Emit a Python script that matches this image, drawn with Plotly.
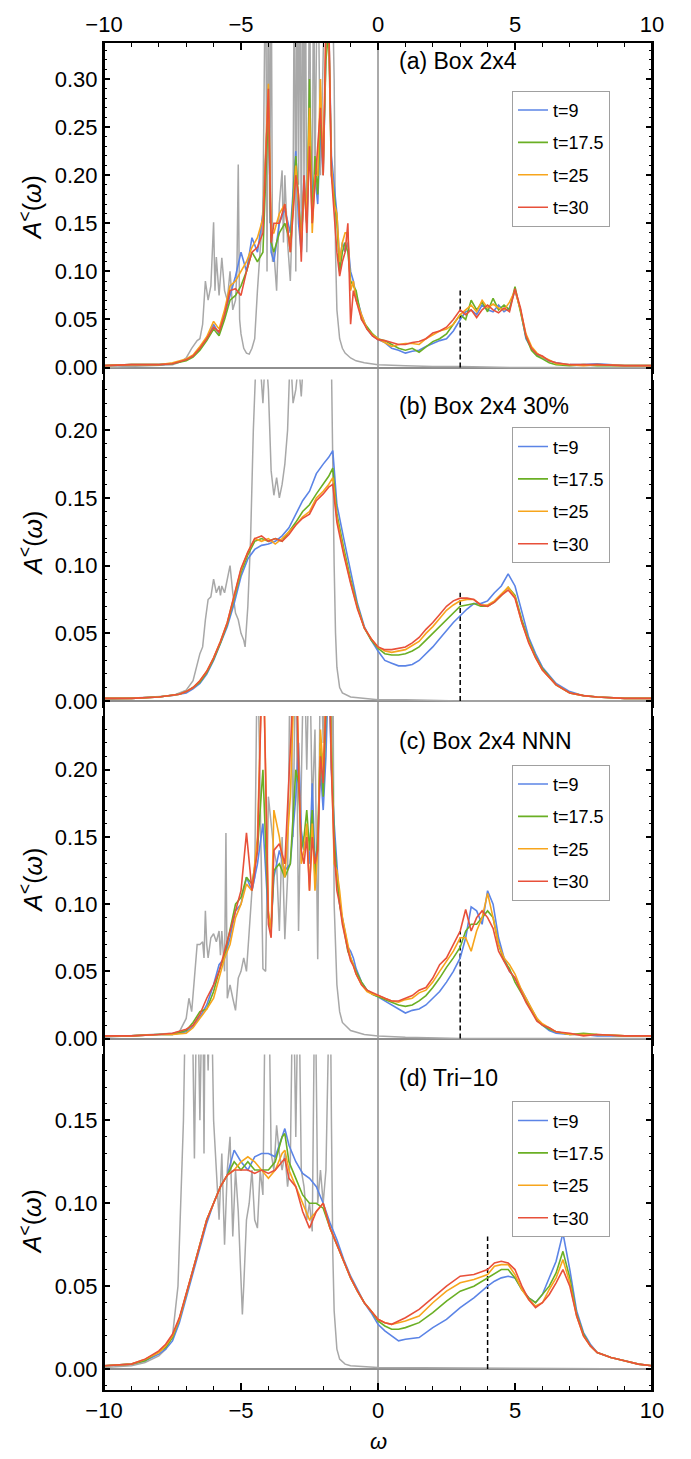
import plotly.graph_objects as go

# ---------------- data ----------------
SERIES_NAMES = ["t=9", "t=17.5", "t=25", "t=30"]
PANEL_LABELS = ["(a) Box 2x4", "(b) Box 2x4 30%", "(c) Box 2x4 NNN", "(d) Tri\u221210"]
DASH_X = [3, 3, 3, 4]
DASH_TOP = 0.08

# panels (a) and (c): omega grid
X_AC = [-10, -9, -8, -7.5, -7, -6.75, -6.5, -6.25, -6, -5.8,
        -5.6, -5.4, -5.2, -5.0, -4.8, -4.6, -4.4, -4.2, -4.0, -3.9,
        -3.8, -3.6, -3.4, -3.2, -3.0, -2.9, -2.8, -2.7, -2.6, -2.5,
        -2.4, -2.3, -2.2, -2.1, -2.0, -1.9, -1.8, -1.7, -1.6, -1.5,
        -1.4, -1.3, -1.2, -1.1, -1.0, -0.9, -0.8, -0.6, -0.4, -0.2,
        0, 0.25, 0.5, 0.75, 1, 1.25, 1.5, 1.75, 2, 2.25,
        2.5, 2.75, 3, 3.2, 3.4, 3.6, 3.8, 4.0, 4.2, 4.4,
        4.6, 4.8, 5.0, 5.2, 5.4, 5.6, 5.8, 6, 6.25, 6.5,
        7, 7.5, 8, 9, 10]

A_T9 = [0.002, 0.003, 0.003, 0.004, 0.008, 0.012, 0.020, 0.030, 0.045, 0.035,
        0.055, 0.075, 0.095, 0.120, 0.100, 0.135, 0.120, 0.160, 0.280, 0.120,
        0.110, 0.150, 0.165, 0.140, 0.225, 0.150, 0.120, 0.200, 0.150, 0.245,
        0.180, 0.200, 0.170, 0.250, 0.200, 0.330, 0.360, 0.220, 0.190, 0.160,
        0.110, 0.130, 0.120, 0.130, 0.100, 0.090, 0.075, 0.055, 0.040, 0.033,
        0.029, 0.026, 0.020, 0.018, 0.015, 0.017, 0.018, 0.022, 0.025, 0.028,
        0.030, 0.038, 0.050, 0.058, 0.060, 0.055, 0.065, 0.060, 0.058, 0.065,
        0.058, 0.062, 0.080, 0.060, 0.030, 0.020, 0.013, 0.010, 0.007, 0.005,
        0.003, 0.003, 0.004, 0.002, 0.002]
A_T17 = [0.002, 0.003, 0.003, 0.004, 0.007, 0.011, 0.018, 0.028, 0.040, 0.033,
         0.050, 0.070, 0.075, 0.085, 0.100, 0.120, 0.110, 0.120, 0.270, 0.130,
         0.120, 0.140, 0.150, 0.130, 0.220, 0.170, 0.130, 0.190, 0.150, 0.300,
         0.150, 0.220, 0.180, 0.260, 0.210, 0.320, 0.350, 0.200, 0.180, 0.150,
         0.100, 0.120, 0.130, 0.120, 0.090, 0.085, 0.080, 0.050, 0.042, 0.035,
         0.030, 0.028, 0.024, 0.020, 0.018, 0.020, 0.016, 0.022, 0.027, 0.030,
         0.035, 0.045, 0.055, 0.050, 0.070, 0.060, 0.068, 0.058, 0.072, 0.060,
         0.065, 0.060, 0.084, 0.058, 0.032, 0.018, 0.012, 0.009, 0.005, 0.003,
         0.002, 0.003, 0.002, 0.002, 0.002]
A_T25 = [0.002, 0.003, 0.003, 0.005, 0.009, 0.013, 0.022, 0.032, 0.048, 0.040,
         0.060, 0.085, 0.090, 0.100, 0.110, 0.125, 0.135, 0.155, 0.295, 0.140,
         0.140, 0.160, 0.170, 0.120, 0.210, 0.170, 0.130, 0.190, 0.160, 0.270,
         0.140, 0.200, 0.200, 0.300, 0.200, 0.350, 0.360, 0.210, 0.170, 0.160,
         0.110, 0.130, 0.140, 0.140, 0.080, 0.090, 0.070, 0.055, 0.040, 0.034,
         0.030, 0.026, 0.022, 0.024, 0.025, 0.025, 0.024, 0.030, 0.034, 0.038,
         0.040, 0.045, 0.055, 0.060, 0.065, 0.058, 0.070, 0.062, 0.066, 0.062,
         0.060, 0.068, 0.080, 0.060, 0.035, 0.022, 0.015, 0.011, 0.008, 0.004,
         0.003, 0.002, 0.003, 0.002, 0.002]
A_T30 = [0.002, 0.003, 0.003, 0.004, 0.008, 0.012, 0.020, 0.030, 0.042, 0.037,
         0.055, 0.080, 0.082, 0.075, 0.100, 0.120, 0.125, 0.140, 0.290, 0.130,
         0.150, 0.150, 0.170, 0.120, 0.200, 0.180, 0.110, 0.200, 0.140, 0.230,
         0.150, 0.190, 0.220, 0.270, 0.200, 0.360, 0.370, 0.200, 0.160, 0.120,
         0.095, 0.110, 0.120, 0.150, 0.045, 0.080, 0.070, 0.050, 0.040, 0.033,
         0.029, 0.028, 0.026, 0.024, 0.024, 0.026, 0.027, 0.030, 0.036, 0.038,
         0.042, 0.050, 0.060, 0.055, 0.060, 0.052, 0.060, 0.065, 0.060, 0.057,
         0.062, 0.058, 0.082, 0.062, 0.033, 0.020, 0.014, 0.012, 0.007, 0.005,
         0.003, 0.003, 0.003, 0.002, 0.002]

XG_A = [-10, -9, -8, -7.5, -7.2, -7.0, -6.8, -6.6, -6.5, -6.4,
        -6.3, -6.2, -6.1, -6.0, -5.95, -5.9, -5.8, -5.7, -5.6, -5.5,
        -5.4, -5.3, -5.2, -5.15, -5.1, -5.05, -5.0, -4.9, -4.8, -4.7,
        -4.6, -4.5, -4.4, -4.3, -4.2, -4.1, -4.05, -4.0, -3.95, -3.9,
        -3.85, -3.8, -3.7, -3.6, -3.5, -3.45, -3.4, -3.3, -3.2, -3.1,
        -3.05, -3.0, -2.95, -2.9, -2.85, -2.8, -2.75, -2.7, -2.65, -2.6,
        -2.55, -2.5, -2.45, -2.4, -2.35, -2.3, -2.2, -2.1, -2.0, -1.9,
        -1.8, -1.7, -1.6, -1.55, -1.5, -1.45, -1.4, -1.3, -1.2, -1.0,
        -0.8, -0.5, 0, 1, 2, 3, 5, 7, 10]
G_A = [0.0, 0.001, 0.002, 0.003, 0.006, 0.010, 0.020, 0.028, 0.030, 0.045,
       0.090, 0.070, 0.085, 0.151, 0.080, 0.115, 0.075, 0.114, 0.080, 0.070,
       0.100, 0.060, 0.070, 0.100, 0.211, 0.050, 0.035, 0.020, 0.015, 0.014,
       0.020, 0.030, 0.080, 0.120, 0.165, 0.450, 0.100, 0.450, 0.150, 0.450,
       0.110, 0.120, 0.080, 0.170, 0.205, 0.130, 0.200, 0.130, 0.090, 0.180,
       0.450, 0.100, 0.450, 0.190, 0.450, 0.120, 0.450, 0.190, 0.450, 0.120,
       0.180, 0.450, 0.200, 0.150, 0.450, 0.200, 0.450, 0.200, 0.450, 0.450,
       0.450, 0.450, 0.300, 0.120, 0.060, 0.040, 0.030, 0.020, 0.015, 0.010,
       0.007, 0.005, 0.003, 0.002, 0.001, 0.001, 0.0, 0.0, 0.0]

# panel (b)
X_B = [-10, -9, -8, -7.5, -7.25, -7, -6.75, -6.5, -6.25, -6,
       -5.75, -5.5, -5.25, -5, -4.75, -4.5, -4.25, -4, -3.75, -3.5,
       -3.25, -3, -2.75, -2.5, -2.25, -2, -1.8, -1.65, -1.5, -1.25,
       -1, -0.75, -0.5, -0.25, 0, 0.25, 0.5, 0.75, 1, 1.25,
       1.5, 1.75, 2, 2.25, 2.5, 2.75, 3, 3.25, 3.5, 3.75,
       4, 4.25, 4.5, 4.75, 5, 5.25, 5.5, 5.75, 6, 6.5,
       7, 7.5, 8, 9, 10]
B_T9 = [0.002, 0.002, 0.003, 0.004, 0.005, 0.006, 0.009, 0.013, 0.020, 0.030,
        0.042, 0.055, 0.072, 0.092, 0.105, 0.112, 0.115, 0.116, 0.118, 0.122,
        0.128, 0.138, 0.148, 0.155, 0.168, 0.175, 0.180, 0.185, 0.145, 0.120,
        0.095, 0.072, 0.055, 0.045, 0.037, 0.030, 0.028, 0.026, 0.026, 0.027,
        0.030, 0.035, 0.040, 0.046, 0.052, 0.058, 0.063, 0.068, 0.072, 0.072,
        0.074, 0.080, 0.085, 0.094, 0.085, 0.065, 0.047, 0.035, 0.025, 0.013,
        0.007, 0.004, 0.003, 0.002, 0.002]
B_T17 = [0.002, 0.002, 0.003, 0.004, 0.005, 0.007, 0.010, 0.014, 0.021, 0.031,
         0.043, 0.057, 0.075, 0.095, 0.108, 0.118, 0.120, 0.118, 0.120, 0.118,
         0.125, 0.132, 0.140, 0.145, 0.153, 0.160, 0.166, 0.172, 0.138, 0.113,
         0.090, 0.070, 0.054, 0.045, 0.039, 0.035, 0.034, 0.034, 0.035, 0.037,
         0.040, 0.045, 0.050, 0.055, 0.060, 0.065, 0.070, 0.071, 0.072, 0.070,
         0.070, 0.073, 0.078, 0.084, 0.078, 0.060, 0.045, 0.033, 0.024, 0.012,
         0.006, 0.004, 0.003, 0.002, 0.002]
B_T25 = [0.002, 0.002, 0.003, 0.004, 0.005, 0.007, 0.010, 0.015, 0.022, 0.032,
         0.044, 0.058, 0.077, 0.097, 0.110, 0.120, 0.118, 0.120, 0.116, 0.120,
         0.125, 0.130, 0.136, 0.140, 0.150, 0.155, 0.160, 0.165, 0.135, 0.110,
         0.088, 0.069, 0.054, 0.046, 0.040, 0.037, 0.036, 0.037, 0.038, 0.041,
         0.044, 0.050, 0.055, 0.061, 0.067, 0.071, 0.074, 0.075, 0.075, 0.071,
         0.071, 0.074, 0.079, 0.084, 0.077, 0.058, 0.044, 0.032, 0.023, 0.012,
         0.006, 0.004, 0.003, 0.002, 0.002]
B_T30 = [0.002, 0.002, 0.003, 0.004, 0.005, 0.007, 0.010, 0.015, 0.022, 0.032,
         0.044, 0.058, 0.078, 0.098, 0.110, 0.120, 0.122, 0.118, 0.120, 0.118,
         0.123, 0.130, 0.135, 0.138, 0.148, 0.153, 0.158, 0.160, 0.132, 0.108,
         0.087, 0.068, 0.054, 0.046, 0.040, 0.038, 0.038, 0.039, 0.040, 0.043,
         0.047, 0.053, 0.058, 0.064, 0.070, 0.074, 0.076, 0.076, 0.075, 0.071,
         0.070, 0.073, 0.078, 0.082, 0.076, 0.058, 0.043, 0.032, 0.023, 0.012,
         0.006, 0.004, 0.003, 0.002, 0.002]

XG_B = [-10, -9, -8, -7.5, -7, -6.75, -6.5, -6.4, -6.3, -6.2,
        -6.1, -6.0, -5.9, -5.8, -5.75, -5.7, -5.6, -5.5, -5.4, -5.3,
        -5.2, -5.1, -5.0, -4.9, -4.85, -4.75, -4.65, -4.55, -4.45, -4.4,
        -4.3, -4.2, -4.1, -4.0, -3.9, -3.8, -3.7, -3.6, -3.5, -3.4,
        -3.3, -3.2, -3.1, -3.0, -2.9, -2.8, -2.7, -2.5, -2.0, -1.75,
        -1.7, -1.65, -1.6, -1.55, -1.5, -1.4, -1.3, -1.0, -0.5, 0,
        1, 3, 10]
G_B = [0.001, 0.002, 0.003, 0.004, 0.008, 0.015, 0.035, 0.040, 0.060, 0.075,
       0.077, 0.090, 0.080, 0.085, 0.078, 0.085, 0.080, 0.090, 0.100, 0.080,
       0.065, 0.060, 0.050, 0.045, 0.040, 0.070, 0.120, 0.200, 0.270, 0.280,
       0.250, 0.220, 0.260, 0.230, 0.170, 0.152, 0.165, 0.150, 0.160, 0.175,
       0.200, 0.260, 0.220, 0.230, 0.250, 0.225, 0.260, 0.300, 0.300, 0.300,
       0.250, 0.165, 0.100, 0.050, 0.025, 0.010, 0.006, 0.003, 0.002, 0.001,
       0.001, 0.0, 0.0]

# panel (c)  (same omega grid as panel (a): X_AC)
C_T9 = [0.002, 0.002, 0.003, 0.003, 0.005, 0.009, 0.016, 0.025, 0.040, 0.055,
        0.060, 0.075, 0.095, 0.100, 0.120, 0.110, 0.130, 0.160, 0.090, 0.085,
        0.120, 0.140, 0.125, 0.130, 0.180, 0.220, 0.155, 0.140, 0.150, 0.130,
        0.190, 0.130, 0.145, 0.200, 0.170, 0.210, 0.280, 0.200, 0.160, 0.130,
        0.100, 0.090, 0.078, 0.068, 0.065, 0.060, 0.052, 0.042, 0.036, 0.033,
        0.031, 0.028, 0.025, 0.022, 0.019, 0.021, 0.022, 0.025, 0.030, 0.035,
        0.042, 0.050, 0.060, 0.075, 0.098, 0.095, 0.085, 0.110, 0.100, 0.075,
        0.060, 0.050, 0.045, 0.038, 0.030, 0.022, 0.015, 0.010, 0.006, 0.004,
        0.003, 0.003, 0.002, 0.002, 0.002]
C_T17 = [0.002, 0.002, 0.003, 0.003, 0.006, 0.012, 0.020, 0.022, 0.035, 0.050,
         0.062, 0.080, 0.100, 0.105, 0.120, 0.115, 0.140, 0.200, 0.090, 0.080,
         0.125, 0.130, 0.120, 0.130, 0.200, 0.190, 0.140, 0.150, 0.170, 0.140,
         0.170, 0.120, 0.150, 0.220, 0.180, 0.240, 0.300, 0.220, 0.150, 0.120,
         0.100, 0.088, 0.075, 0.065, 0.060, 0.055, 0.050, 0.042, 0.036, 0.033,
         0.031, 0.029, 0.027, 0.025, 0.024, 0.025, 0.028, 0.032, 0.038, 0.045,
         0.053, 0.060, 0.068, 0.080, 0.085, 0.085, 0.090, 0.095, 0.090, 0.070,
         0.058, 0.052, 0.042, 0.035, 0.028, 0.020, 0.014, 0.010, 0.007, 0.005,
         0.003, 0.004, 0.003, 0.002, 0.002]
C_T25 = [0.002, 0.002, 0.003, 0.003, 0.004, 0.008, 0.015, 0.022, 0.030, 0.045,
         0.060, 0.070, 0.090, 0.100, 0.115, 0.110, 0.150, 0.300, 0.095, 0.080,
         0.170, 0.150, 0.120, 0.180, 0.300, 0.210, 0.130, 0.140, 0.160, 0.110,
         0.160, 0.110, 0.140, 0.230, 0.200, 0.260, 0.300, 0.210, 0.130, 0.125,
         0.110, 0.090, 0.080, 0.070, 0.060, 0.055, 0.048, 0.040, 0.035, 0.033,
         0.032, 0.030, 0.028, 0.027, 0.029, 0.030, 0.034, 0.036, 0.042, 0.050,
         0.058, 0.065, 0.075, 0.075, 0.065, 0.080, 0.090, 0.108, 0.090, 0.070,
         0.060, 0.055, 0.048, 0.038, 0.030, 0.022, 0.015, 0.011, 0.008, 0.005,
         0.003, 0.003, 0.003, 0.002, 0.002]
C_T30 = [0.002, 0.002, 0.003, 0.004, 0.007, 0.010, 0.018, 0.030, 0.040, 0.050,
         0.065, 0.080, 0.095, 0.110, 0.153, 0.110, 0.140, 0.300, 0.085, 0.075,
         0.140, 0.145, 0.130, 0.200, 0.300, 0.200, 0.140, 0.130, 0.150, 0.110,
         0.150, 0.130, 0.140, 0.210, 0.190, 0.250, 0.300, 0.200, 0.140, 0.110,
         0.100, 0.085, 0.075, 0.066, 0.058, 0.054, 0.048, 0.040, 0.036, 0.034,
         0.032, 0.030, 0.028, 0.028, 0.030, 0.032, 0.036, 0.038, 0.045, 0.055,
         0.060, 0.070, 0.080, 0.096, 0.080, 0.090, 0.095, 0.090, 0.082, 0.065,
         0.058, 0.050, 0.045, 0.036, 0.027, 0.020, 0.013, 0.010, 0.008, 0.005,
         0.004, 0.002, 0.003, 0.002, 0.002]

XG_C = [-10, -9, -8, -7.5, -7.25, -7.0, -6.9, -6.8, -6.7, -6.6,
        -6.5, -6.4, -6.35, -6.3, -6.25, -6.2, -6.1, -6.0, -5.9, -5.8,
        -5.75, -5.7, -5.6, -5.55, -5.5, -5.4, -5.3, -5.2, -5.1, -5.0,
        -4.9, -4.8, -4.7, -4.6, -4.5, -4.4, -4.3, -4.2, -4.1, -4.0,
        -3.9, -3.8, -3.7, -3.6, -3.5, -3.4, -3.3, -3.2, -3.1, -3.0,
        -2.9, -2.8, -2.7, -2.6, -2.5, -2.4, -2.3, -2.2, -2.1, -2.0,
        -1.9, -1.8, -1.7, -1.65, -1.6, -1.5, -1.4, -1.3, -1.1, -1.0,
        -0.5, 0, 1, 3, 10]
G_C = [0.001, 0.002, 0.003, 0.004, 0.005, 0.015, 0.030, 0.020, 0.045, 0.070,
       0.070, 0.072, 0.060, 0.095, 0.070, 0.060, 0.075, 0.078, 0.072, 0.080,
       0.062, 0.080, 0.050, 0.153, 0.030, 0.040, 0.030, 0.021, 0.045, 0.050,
       0.060, 0.050, 0.080, 0.110, 0.120, 0.300, 0.180, 0.052, 0.050, 0.180,
       0.160, 0.140, 0.130, 0.080, 0.150, 0.074, 0.120, 0.300, 0.150, 0.300,
       0.080, 0.200, 0.300, 0.200, 0.300, 0.170, 0.230, 0.059, 0.300, 0.220,
       0.300, 0.300, 0.200, 0.300, 0.100, 0.040, 0.020, 0.012, 0.008, 0.006,
       0.003, 0.002, 0.001, 0.0, 0.0]

# panel (d)
X_D = [-10, -9, -8.5, -8, -7.75, -7.5, -7.25, -7, -6.75, -6.5,
       -6.25, -6, -5.75, -5.5, -5.25, -5, -4.75, -4.5, -4.25, -4,
       -3.75, -3.5, -3.4, -3.25, -3, -2.75, -2.5, -2.25, -2, -1.75,
       -1.5, -1.25, -1, -0.75, -0.5, -0.25, 0, 0.25, 0.5, 0.75,
       1, 1.5, 2, 2.5, 3, 3.5, 4, 4.25, 4.5, 4.75,
       5, 5.25, 5.5, 5.75, 6, 6.25, 6.5, 6.75, 7, 7.25,
       7.5, 7.75, 8, 8.5, 9, 9.5, 10]
D_T9 = [0.002, 0.003, 0.005, 0.009, 0.012, 0.017, 0.028, 0.043, 0.058, 0.073,
        0.088, 0.100, 0.110, 0.117, 0.132, 0.125, 0.120, 0.128, 0.130, 0.130,
        0.128, 0.140, 0.145, 0.135, 0.125, 0.118, 0.115, 0.110, 0.100, 0.088,
        0.078, 0.066, 0.056, 0.048, 0.040, 0.034, 0.027, 0.023, 0.020, 0.017,
        0.018, 0.019, 0.025, 0.030, 0.037, 0.043, 0.050, 0.053, 0.055, 0.056,
        0.055, 0.048, 0.043, 0.040, 0.045, 0.055, 0.065, 0.082, 0.060, 0.035,
        0.022, 0.015, 0.010, 0.007, 0.005, 0.003, 0.002]
D_T17 = [0.002, 0.003, 0.005, 0.010, 0.013, 0.019, 0.030, 0.045, 0.060, 0.075,
         0.090, 0.100, 0.110, 0.117, 0.125, 0.120, 0.125, 0.120, 0.120, 0.120,
         0.125, 0.140, 0.142, 0.125, 0.115, 0.105, 0.100, 0.100, 0.097, 0.085,
         0.075, 0.065, 0.055, 0.047, 0.040, 0.035, 0.029, 0.026, 0.024, 0.024,
         0.025, 0.028, 0.034, 0.041, 0.047, 0.050, 0.055, 0.058, 0.060, 0.060,
         0.055, 0.048, 0.043, 0.040, 0.045, 0.050, 0.058, 0.071, 0.055, 0.033,
         0.021, 0.014, 0.010, 0.007, 0.005, 0.003, 0.002]
D_T25 = [0.002, 0.003, 0.006, 0.010, 0.014, 0.020, 0.030, 0.045, 0.060, 0.075,
         0.090, 0.100, 0.110, 0.117, 0.120, 0.125, 0.128, 0.125, 0.120, 0.115,
         0.120, 0.130, 0.132, 0.120, 0.110, 0.100, 0.090, 0.095, 0.100, 0.085,
         0.075, 0.065, 0.055, 0.047, 0.040, 0.035, 0.030, 0.028, 0.027, 0.028,
         0.029, 0.032, 0.040, 0.047, 0.052, 0.054, 0.057, 0.062, 0.063, 0.063,
         0.057, 0.048, 0.042, 0.038, 0.040, 0.048, 0.055, 0.066, 0.052, 0.032,
         0.020, 0.014, 0.010, 0.007, 0.005, 0.003, 0.002]
D_T30 = [0.002, 0.003, 0.006, 0.011, 0.015, 0.021, 0.031, 0.045, 0.060, 0.075,
         0.090, 0.100, 0.110, 0.117, 0.120, 0.120, 0.120, 0.118, 0.120, 0.118,
         0.120, 0.125, 0.127, 0.115, 0.110, 0.095, 0.085, 0.095, 0.100, 0.085,
         0.075, 0.065, 0.055, 0.047, 0.040, 0.035, 0.030, 0.028, 0.027, 0.029,
         0.031, 0.036, 0.043, 0.050, 0.056, 0.057, 0.060, 0.064, 0.065, 0.064,
         0.060, 0.050, 0.042, 0.037, 0.040, 0.045, 0.052, 0.060, 0.050, 0.032,
         0.020, 0.014, 0.010, 0.007, 0.005, 0.003, 0.002]

XG_D = [-10, -9, -8.5, -8, -7.75, -7.5, -7.3, -7.2, -7.1, -7.0,
        -6.9, -6.8, -6.7, -6.6, -6.5, -6.4, -6.35, -6.3, -6.2, -6.1,
        -6.0, -5.9, -5.8, -5.7, -5.6, -5.5, -5.4, -5.3, -5.2, -5.1,
        -5.0, -4.95, -4.9, -4.8, -4.7, -4.6, -4.5, -4.4, -4.3, -4.2,
        -4.1, -4.0, -3.9, -3.8, -3.7, -3.6, -3.5, -3.4, -3.3, -3.2,
        -3.1, -3.0, -2.9, -2.8, -2.7, -2.6, -2.5, -2.4, -2.3, -2.2,
        -2.1, -2.0, -1.9, -1.85, -1.8, -1.75, -1.7, -1.65, -1.6, -1.5,
        -1.4, -1.2, -1.0, 0, 10]
G_D = [0.001, 0.002, 0.004, 0.008, 0.012, 0.020, 0.050, 0.100, 0.150, 0.250,
       0.250, 0.250, 0.127, 0.250, 0.150, 0.250, 0.130, 0.250, 0.180, 0.250,
       0.150, 0.120, 0.090, 0.130, 0.075, 0.120, 0.140, 0.080, 0.120, 0.095,
       0.045, 0.033, 0.050, 0.090, 0.100, 0.120, 0.090, 0.085, 0.120, 0.105,
       0.250, 0.250, 0.130, 0.120, 0.147, 0.130, 0.120, 0.130, 0.110, 0.125,
       0.250, 0.140, 0.250, 0.120, 0.110, 0.090, 0.100, 0.083, 0.250, 0.100,
       0.120, 0.100, 0.120, 0.250, 0.250, 0.250, 0.150, 0.070, 0.035, 0.012,
       0.006, 0.003, 0.002, 0.001, 0.0]

# ---------------- styling / layout ----------------
COLORS = ["#5b84e6", "#6aaf24", "#f7a51c", "#e8503a"]
GRAY = "#a8a8a8"
AXGRAY = "#8e8e8e"
FONT = "Liberation Sans, Arial, sans-serif"

W, H = 691, 1459
ML, MR, MT, MB = 104, 39, 37, 69
PH = H - MT - MB


def py(pix):
    return (H - MB - pix) / PH


# panel pixel extents (top, bottom), zero-line pixel, pixels per unit
PANEL_PIX = [(37, 369, 363, 966.0), (375, 705, 698, 1360.0),
             (713, 1044, 1037, 1350.0), (1053, 1390, 1369, 1666.0)]
LEGEND_TOP = [85, 423, 762, 1100]
LABEL_Y = [55, 402, 738, 1077]

panels = [
    (X_AC, [A_T9, A_T17, A_T25, A_T30], XG_A, G_A),
    (X_B, [B_T9, B_T17, B_T25, B_T30], XG_B, G_B),
    (X_AC, [C_T9, C_T17, C_T25, C_T30], XG_C, G_C),
    (X_D, [D_T9, D_T17, D_T25, D_T30], XG_D, G_D),
]

fig = go.Figure()
layout = dict(
    width=W, height=H,
    margin=dict(l=ML, r=MR, t=MT, b=MB),
    plot_bgcolor="white", paper_bgcolor="white",
    font=dict(family=FONT, size=22, color="black"),
    showlegend=True,
)
annotations = []
shapes = []

for k, (xs, series, gx, gy) in enumerate(panels):
    n = k + 1
    xa = "x" if n == 1 else f"x{n}"
    ya = "y" if n == 1 else f"y{n}"
    leg = "legend" if n == 1 else f"legend{n}"
    top, bot, zero, ppu = PANEL_PIX[k]
    y_top = (zero - top) / ppu
    y_bot = (zero - bot) / ppu

    fig.add_trace(go.Scatter(x=gx, y=gy, mode="lines", xaxis=xa, yaxis=ya,
                             line=dict(color=GRAY, width=1.5), showlegend=False,
                             hoverinfo="skip"))
    fig.add_trace(go.Scatter(x=[DASH_X[k], DASH_X[k]], y=[0, DASH_TOP], mode="lines",
                             xaxis=xa, yaxis=ya, showlegend=False,
                             line=dict(color="black", width=1.5, dash="5px,3px")))
    for name, ys, col in zip(SERIES_NAMES, series, COLORS):
        fig.add_trace(go.Scatter(x=xs, y=ys, mode="lines", name=name, xaxis=xa, yaxis=ya,
                                 line=dict(color=col, width=1.6), legend=leg,
                                 legendgroup=f"{n}{name}"))

    xkey = "xaxis" if n == 1 else f"xaxis{n}"
    ykey = "yaxis" if n == 1 else f"yaxis{n}"
    xcfg = dict(range=[-10, 10], anchor=ya, showgrid=False, zeroline=False,
                tickmode="linear", tick0=-10, dtick=5)
    if n == 1:
        xcfg.update(side="top", showline=True, linecolor="black", linewidth=2,
                    ticks="inside", ticklen=7, tickwidth=1.5, tickcolor="black",
                    minor=dict(ticks="inside", dtick=1, ticklen=4, tickwidth=1.2, tickcolor="black"),
                    showticklabels=True, tickfont=dict(size=22))
    elif n == 4:
        xcfg.update(side="bottom", showline=True, linecolor="black", linewidth=2,
                    ticks="inside", ticklen=7, tickwidth=1.5, tickcolor="black",
                    minor=dict(ticks="inside", dtick=1, ticklen=4, tickwidth=1.2, tickcolor="black"),
                    showticklabels=True, tickfont=dict(size=22))
    else:
        xcfg.update(showline=False, ticks="", showticklabels=False)
    if n > 1:
        xcfg["matches"] = "x"
    layout[xkey] = xcfg

    layout[ykey] = dict(
        domain=[py(bot), py(top)], range=[y_bot, y_top], anchor=xa,
        tickmode="linear", tick0=0, dtick=0.05, tickformat=".2f",
        ticks="inside", ticklen=6, tickwidth=1.5, tickcolor="black",
        minor=dict(ticks="inside", dtick=0.01, ticklen=3, tickwidth=1.2, tickcolor="black"),
        showline=True, linecolor="black", linewidth=2, mirror="ticks",
        showgrid=False, zeroline=True, zerolinecolor=AXGRAY, zerolinewidth=1.5,
        tickfont=dict(size=22),
    )

    layout[leg] = dict(
        x=(512 - ML) / (W - ML - MR), y=py(LEGEND_TOP[k]), xanchor="left", yanchor="top",
        bordercolor="#a0a0a0", borderwidth=1, bgcolor="white",
        font=dict(size=18, family=FONT), tracegroupgap=6, itemwidth=30,
    )

    annotations.append(dict(text=PANEL_LABELS[k], xref="paper", yref="paper",
                            x=(397 - ML) / (W - ML - MR), y=py(LABEL_Y[k]),
                            xanchor="left", yanchor="middle", showarrow=False,
                            font=dict(size=23, family=FONT)))
    annotations.append(dict(text="<i>A</i><sup>&lt;</sup>(<i>\u03c9</i>)", xref="paper", yref="paper",
                            x=(31 - ML) / (W - ML - MR), y=py((top + bot) / 2),
                            xanchor="center", yanchor="middle", textangle=-90, showarrow=False,
                            font=dict(size=25, family=FONT)))

annotations.append(dict(text="<i>\u03c9</i>", xref="paper", yref="paper", x=0.5, y=py(1442),
                        xanchor="center", yanchor="middle", showarrow=False,
                        font=dict(size=22, family=FONT)))

# continuous frame sides and the omega = 0 axis line
shapes.append(dict(type="line", xref="paper", yref="paper", x0=0, x1=0, y0=0, y1=1,
                   line=dict(color="black", width=2)))
shapes.append(dict(type="line", xref="paper", yref="paper", x0=1, x1=1, y0=0, y1=1,
                   line=dict(color="black", width=2)))
shapes.append(dict(type="line", xref="x", yref="paper", x0=0, x1=0, y0=0, y1=1,
                   line=dict(color=AXGRAY, width=1.5), layer="below"))

layout["annotations"] = annotations
layout["shapes"] = shapes
fig.update_layout(**layout)
fig.write_html("out.html")
